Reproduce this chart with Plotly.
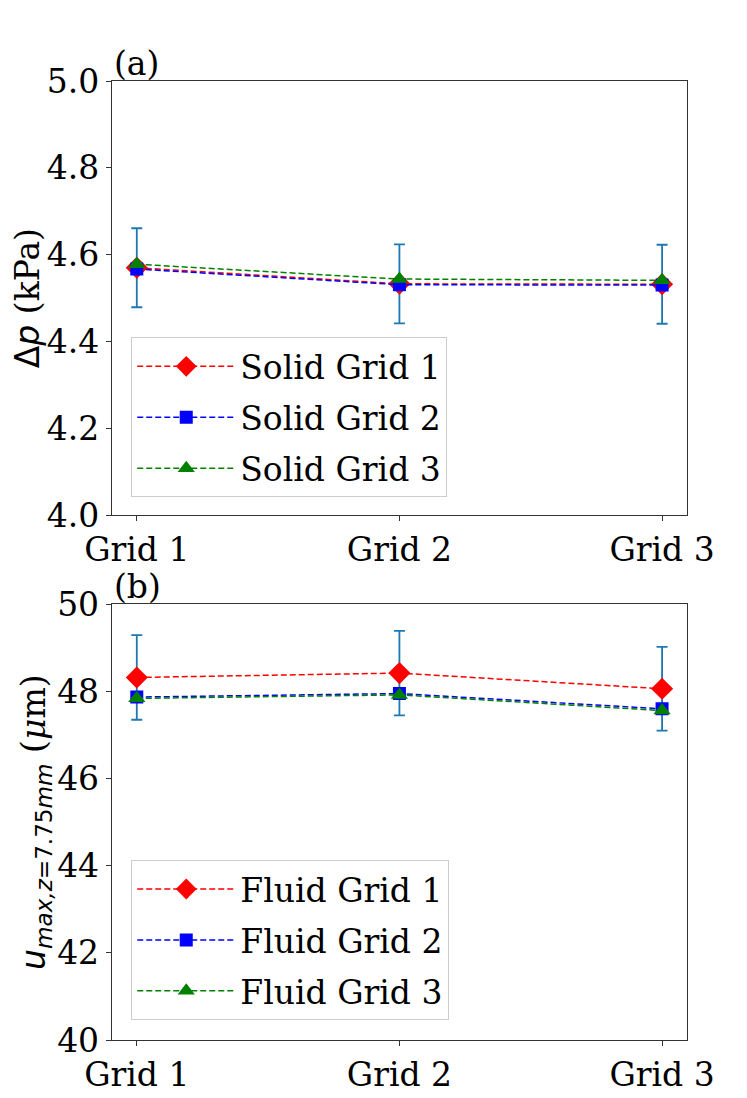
import plotly.graph_objects as go
from plotly.subplots import make_subplots

grids = ["Grid 1", "Grid 2", "Grid 3"]

# (a) pressure drop, kPa
dp_solid1 = [4.570, 4.533, 4.532]
dp_solid2 = [4.567, 4.531, 4.530]
dp_solid3 = [4.578, 4.544, 4.541]
dp_err = [0.091, 0.091, 0.091]

# (b) max displacement, um
u_fluid1 = [48.32, 48.42, 48.06]
u_fluid2 = [47.87, 47.95, 47.60]
u_fluid3 = [47.84, 47.92, 47.56]
u_err = [0.97, 0.97, 0.96]

serif = "DejaVu Serif"
fs = 33

fig = make_subplots(rows=2, cols=1)

def add_panel(row, s1, s2, s3, err, names, legend):
    # error bars first so the markers sit on top
    fig.add_trace(go.Scatter(x=grids, y=s1, mode="markers",
                             marker=dict(size=1, color="rgba(0,0,0,0)"),
                             error_y=dict(type="data", array=err, color="#1f77b4",
                                          thickness=1.8, width=5.5),
                             showlegend=False, hoverinfo="skip"), row=row, col=1)
    styles = [("red", "diamond", 17), ("blue", "square", 13), ("green", "triangle-up", 15)]
    for ys, name, (c, sym, sz) in zip([s1, s2, s3], names, styles):
        fig.add_trace(go.Scatter(x=grids, y=ys, name=name, mode="lines+markers",
                                 line=dict(color=c, width=1.5, dash="6px,3px"),
                                 marker=dict(color=c, symbol=sym, size=sz),
                                 legend=legend, legendgroup=legend + name), row=row, col=1)

add_panel(1, dp_solid1, dp_solid2, dp_solid3, dp_err,
          ["Solid Grid 1", "Solid Grid 2", "Solid Grid 3"], "legend")
add_panel(2, u_fluid1, u_fluid2, u_fluid3, u_err,
          ["Fluid Grid 1", "Fluid Grid 2", "Fluid Grid 3"], "legend2")

axis_common = dict(showline=True, mirror=True, linecolor="#333", linewidth=1.2,
                   ticks="outside", ticklen=5, tickcolor="#333", showgrid=False,
                   zeroline=False, automargin=False,
                   tickfont=dict(family=serif, size=fs, color="black"))

fig.update_xaxes(**axis_common, range=[-0.095, 2.095])
fig.update_xaxes(domain=[0.139, 0.909])
fig.update_yaxes(**axis_common)

fig.update_yaxes(row=1, col=1, range=[4.0, 5.0], dtick=0.2, tickformat=".1f",
                 domain=[0.538, 0.9335],
                 title=dict(text="<span style='font-family:DejaVu Sans'>Δ<i>p</i></span> (kPa)",
                            font=dict(family=serif, size=fs, color="black"), standoff=2))
fig.update_yaxes(row=2, col=1, range=[40, 50], dtick=2,
                 domain=[0.060, 0.457],
                 title=dict(text="<span style='font-family:DejaVu Sans'><i>u</i><sub><i>max,z</i>=7.75<i>mm</i></sub></span> (<i>μ</i>m)",
                            font=dict(family=serif, size=fs, color="black"), standoff=0))

legend_style = dict(font=dict(family=serif, size=fs, color="black"),
                    bgcolor="rgba(255,255,255,0.8)", bordercolor="#ccc", borderwidth=1,
                    xanchor="left", yanchor="top", itemwidth=98, tracegroupgap=5)
fig.update_layout(
    legend=dict(**legend_style, x=0.165, y=0.700),
    legend2=dict(**legend_style, x=0.165, y=0.224),
)

fig.add_annotation(text="(a)", x=0.139, y=0.9335, xref="paper", yref="paper",
                   xanchor="left", yanchor="bottom", showarrow=False, yshift=-4,
                   font=dict(family=serif, size=fs, color="black"))
fig.add_annotation(text="(b)", x=0.139, y=0.457, xref="paper", yref="paper",
                   xanchor="left", yanchor="bottom", showarrow=False, yshift=-4,
                   font=dict(family=serif, size=fs, color="black"))

fig.update_layout(width=747, height=1098, plot_bgcolor="white", paper_bgcolor="white",
                  margin=dict(l=0, r=0, t=0, b=0))

fig.write_html("out.html")
